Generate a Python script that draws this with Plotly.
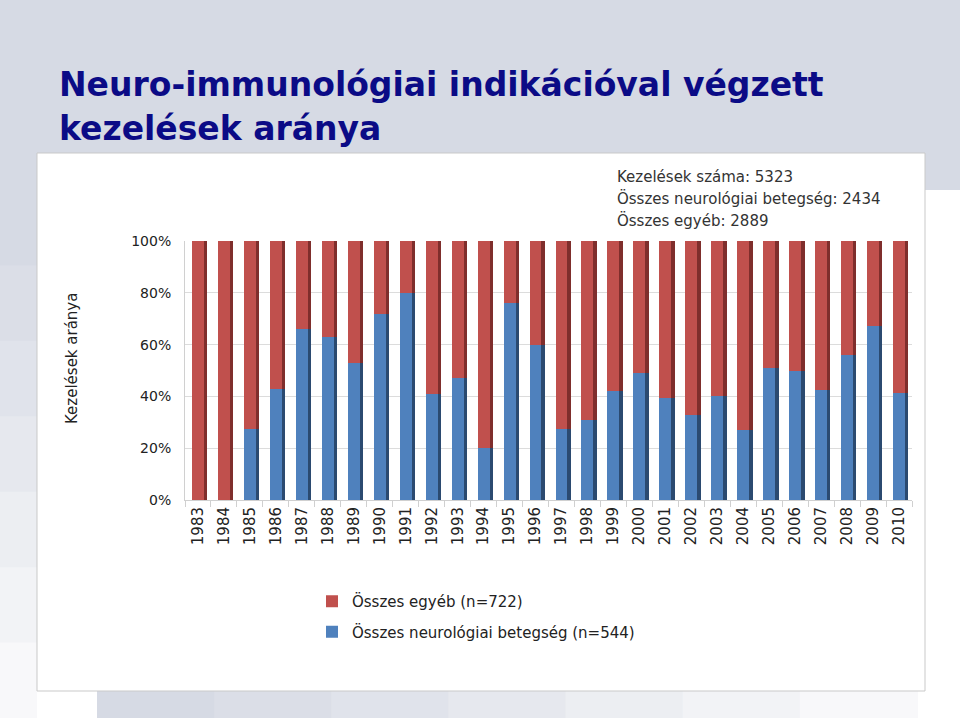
import plotly.graph_objects as go

years = [str(y) for y in range(1983, 2011)]
neuro_pct = [0, 0, 27.5, 43, 66, 63, 53, 72, 80, 41, 47, 20, 76, 60,
             27.5, 31, 42, 49, 39.5, 33, 40, 27, 51, 50, 42.6, 56, 67, 41.5]
other_pct = [100 - v for v in neuro_pct]

title_lines = ["Neuro-immunológiai indikációval végzett", "kezelések aránya"]
info_lines = ["Kezelések száma: 5323",
              "Összes neurológiai betegség: 2434",
              "Összes egyéb: 2889"]
y_title = "Kezelések aránya"
y_ticks = [0, 20, 40, 60, 80, 100]
y_tick_text = ["0%", "20%", "40%", "60%", "80%", "100%"]
legend_other = "Összes egyéb (n=722)"
legend_neuro = "Összes neurológiai betegség (n=544)"

RED, RED_D = "#c0504d", "#7f2e2c"
BLUE, BLUE_D = "#4f81bd", "#2b4a70"
FONT = "DejaVu Sans"

# plot area in pixels
L, R, T, B = 185, 912, 241, 500
W, H = R - L, B - T

def px(x):
    return (x - L) / W

def py(y):
    return (B - y) / H

fig = go.Figure()
FW, SW = 0.46, 0.13
# side faces (darker, drawn first)
fig.add_bar(x=years, y=neuro_pct, base=0, width=SW, offset=FW / 2,
            marker=dict(color=BLUE_D, line_width=0), showlegend=False, hoverinfo="skip")
fig.add_bar(x=years, y=other_pct, base=neuro_pct, width=SW, offset=FW / 2,
            marker=dict(color=RED_D, line_width=0), showlegend=False, hoverinfo="skip")
# front faces
fig.add_bar(x=years, y=neuro_pct, base=0, width=FW, offset=-FW / 2,
            marker=dict(color=BLUE, line_width=0), name=legend_neuro,
            legendgroup="b", legendrank=2)
fig.add_bar(x=years, y=other_pct, base=neuro_pct, width=FW, offset=-FW / 2,
            marker=dict(color=RED, line_width=0), name=legend_other,
            legendgroup="a", legendrank=1)

shapes = []
# background pieces
shapes.append(dict(type="rect", xref="paper", yref="paper", layer="below",
                   x0=px(0), x1=px(960), y0=py(0), y1=py(190),
                   fillcolor="#d6dae4", line_width=0))
grad = ["#d6dae4", "#dbdee7", "#e0e3eb", "#e6e8ee", "#eceef2", "#f2f3f6", "#f8f8fa"]
n = len(grad)
for i, c in enumerate(grad):
    y0 = 190 + i * (528 / n)
    shapes.append(dict(type="rect", xref="paper", yref="paper", layer="below",
                       x0=px(0), x1=px(37), y0=py(y0), y1=py(y0 + 528 / n + 1),
                       fillcolor=c, line_width=0))
for i, c in enumerate(grad):
    x0 = 97 + i * (820 / n)
    shapes.append(dict(type="rect", xref="paper", yref="paper", layer="below",
                       x0=px(x0), x1=px(x0 + 820 / n + 1), y0=py(691), y1=py(718),
                       fillcolor=c, line_width=0))
# white chart box
shapes.append(dict(type="rect", xref="paper", yref="paper", layer="below",
                   x0=px(37), x1=px(925), y0=py(153), y1=py(691),
                   fillcolor="white", line=dict(color="#c9c9c9", width=1)))

annotations = []
annotations.append(dict(xref="paper", yref="paper", x=px(57), y=py(84),
                        xanchor="left", yanchor="middle", showarrow=False,
                        text="<b>" + title_lines[0] + "</b>",
                        font=dict(family=FONT, size=33, color="#0b0b86")))
annotations.append(dict(xref="paper", yref="paper", x=px(57), y=py(128),
                        xanchor="left", yanchor="middle", showarrow=False,
                        text="<b>" + title_lines[1] + "</b>",
                        font=dict(family=FONT, size=33, color="#0b0b86")))
for i, t in enumerate(info_lines):
    annotations.append(dict(xref="paper", yref="paper", x=px(615), y=py(177 + i * 21.5),
                            xanchor="left", yanchor="middle", showarrow=False, text=t,
                            font=dict(family=FONT, size=15, color="#333333")))
annotations.append(dict(xref="paper", yref="paper", x=px(72), y=py(359),
                        xanchor="center", yanchor="middle", showarrow=False,
                        text=y_title, textangle=-90,
                        font=dict(family=FONT, size=15, color="#222222")))

fig.update_layout(
    width=960, height=718,
    margin=dict(l=L, r=960 - R, t=T, b=718 - B, autoexpand=False),
    paper_bgcolor="white", plot_bgcolor="rgba(0,0,0,0)",
    barmode="overlay", bargap=0,
    shapes=shapes, annotations=annotations,
    font=dict(family=FONT, color="#222222"),
    legend=dict(x=px(312), y=py(585),
                xanchor="left", yanchor="top", traceorder="grouped",
                tracegroupgap=8, font=dict(family=FONT, size=15, color="#222222"),
                bgcolor="rgba(0,0,0,0)", itemwidth=30),
    showlegend=True,
)
fig.update_xaxes(type="category", categoryorder="array", categoryarray=years,
                 range=[-0.5, len(years) - 0.5], tickangle=-90,
                 tickfont=dict(family=FONT, size=15, color="#222222"),
                 ticks="outside", tickson="boundaries", ticklen=6, tickcolor="#d0d0d0",
                 showline=True, linecolor="#d0d0d0", showgrid=False, automargin=False)
fig.update_yaxes(range=[0, 100], tickmode="array", tickvals=y_ticks, ticktext=y_tick_text,
                 tickfont=dict(family=FONT, size=14, color="#222222"),
                 showgrid=True, gridcolor="#dcdcdc", zeroline=False,
                 showline=True, linecolor="#d0d0d0", ticks="", ticklabelstandoff=10,
                 automargin=False)

fig.write_html("out.html")
